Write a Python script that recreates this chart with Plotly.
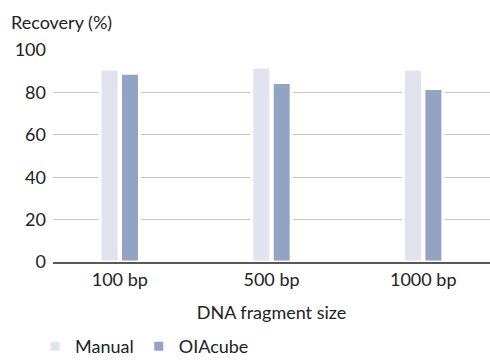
import plotly.graph_objects as go

categories = ["100 bp", "500 bp", "1000 bp"]
manual = [91, 92, 91]
qiacube = [89, 84.7, 81.8]
series_names = ["Manual", "OIAcube"]
y_ticks = [0, 20, 40, 60, 80, 100]

FONT = "Lato"
fig = go.Figure()
fig.add_trace(go.Bar(x=categories, y=manual, name=series_names[0],
                     marker=dict(color="#e1e4ef", line=dict(color="white", width=3))))
fig.add_trace(go.Bar(x=categories, y=qiacube, name=series_names[1],
                     marker=dict(color="#93a3c3", line=dict(color="white", width=3))))

fig.update_layout(
    width=490, height=361,
    margin=dict(l=53, r=0, t=50, b=99, autoexpand=False),
    paper_bgcolor="white", plot_bgcolor="white",
    font=dict(family=FONT, size=18, color="#222222"),
    barmode="group", bargap=0.731, bargroupgap=0.07,
    showlegend=True,
    legend=dict(orientation="h", x=-0.041, y=-0.311, xanchor="left", yanchor="top",
                font=dict(size=18), tracegroupgap=0),
    xaxis=dict(range=[-0.44, 2.44], showline=True, linecolor="#595959", linewidth=2,
               ticks="", showgrid=False, automargin=False,
               title=dict(text="DNA fragment size", standoff=18, font=dict(size=18))),
    yaxis=dict(range=[0, 100], tickvals=y_ticks, showgrid=True, gridcolor="#c8c8c8",
               gridwidth=1, zeroline=False, ticks="", ticklabelstandoff=6, automargin=False),
    annotations=[dict(text="Recovery (%)", xref="paper", yref="paper", x=-0.1007, y=1.0,
                      xanchor="left", yanchor="middle", yshift=28, showarrow=False,
                      font=dict(size=18))],
)
fig.write_html("out.html", config={"displayModeBar": False},
               post_script="document.body.style.margin='0';")
